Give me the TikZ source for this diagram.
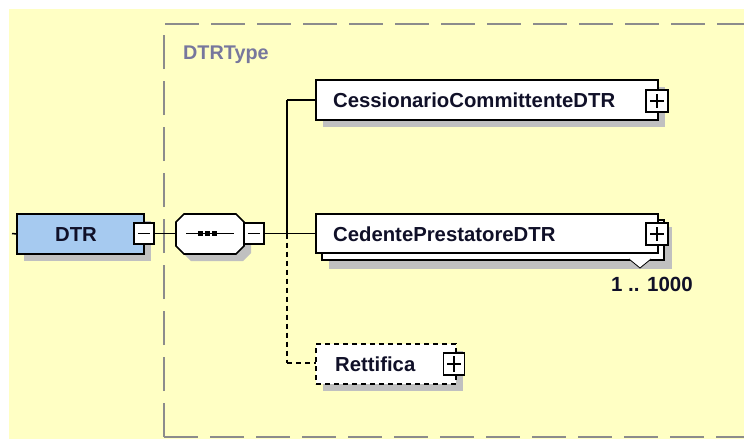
\documentclass[tikz,border=0pt]{standalone}
\usepackage{fontspec}
\setmainfont{Liberation Sans}
\usetikzlibrary{calc}
\definecolor{bgyellow}{RGB}{255,255,196}
\definecolor{dtrblue}{RGB}{166,202,240}
\definecolor{shadowgray}{RGB}{192,192,192}
\definecolor{framegray}{RGB}{140,140,140}
\definecolor{txt}{RGB}{16,16,40}
\tikzset{
  x=1pt, y=-1pt,
  boxline/.style={draw=black, line width=1.6pt},
  elbox/.style={draw=black, line width=1.6pt, fill=white, anchor=north west, inner sep=0pt, outer sep=0pt},
  lbl/.style={font=\fontsize{20.3}{22}\selectfont\bfseries, text=txt, inner sep=0pt},
  conn/.style={draw=black, line width=1.5pt},
  dconn/.style={draw=black, line width=1.5pt, dash pattern=on 5pt off 4pt},
  pm/.style={draw=black, line width=1.4pt, fill=white, inner sep=0pt},
}
\begin{document}
\begin{tikzpicture}
\useasboundingbox (0,0) rectangle (744,439);
\clip (0,0) rectangle (744,439);
\fill[white] (0,0) rectangle (744,439);
\fill[bgyellow] (9,9) rectangle (744,439);
% type frame
\draw[framegray, line width=2pt, dash pattern=on 34pt off 12pt] (164,437) -- (164,24) -- (760,24);
\draw[framegray, line width=2pt, dash pattern=on 34pt off 12pt] (164,437) -- (760,437);
\node[anchor=base west, font=\fontsize{19.8}{22}\selectfont\bfseries, text=framegray!85!blue, inner sep=0pt] (typelbl) at (183,59) {DTRType};

% DTR element
\fill[shadowgray] (24,221) rectangle (151,261);
\node[elbox, fill=dtrblue, minimum width=127pt, minimum height=40pt] (dtrbox) at (17,214) {};
\node[lbl, anchor=base] (dtr) at (76,241) {DTR};
\node[pm, minimum width=20pt, minimum height=21pt] (dtrm) at (144,233.5) {};
\draw[line width=1.4pt] ($(dtrm.center)+(-6,0)$) -- ($(dtrm.center)+(6,0)$);
\coordinate (lstart) at (12,233.5);
\draw[conn] (lstart) -- (dtrbox.west);

% sequence compositor
\fill[shadowgray] (191,221) -- (243,221) -- (251,229) -- (251,253) -- (243,261) -- (191,261) -- (183,253) -- (183,229) -- cycle;
\draw[boxline, fill=white] (184,214) -- (236,214) -- (244,222) -- (244,246) -- (236,254) -- (184,254) -- (176,246) -- (176,222) -- cycle;
\coordinate (seqw) at (176,233.5);
\draw[line width=1.2pt] (186,233.5) -- (234,233.5);
\foreach \xx in {200,207,214} \fill[black] (\xx-2.5,231) rectangle (\xx+2.5,236);
\node[pm, minimum width=20pt, minimum height=21pt] (seqm) at (254,233.5) {};
\draw[line width=1.4pt] ($(seqm.center)+(-6,0)$) -- ($(seqm.center)+(6,0)$);
\draw[conn] (dtrm.east) -- (seqw);

% trunk
\coordinate (trunk) at (287,233.5);
\coordinate (trunktop) at (287,100);
\coordinate (trunkbot) at (287,363);
\draw[conn] (seqm.east) -- (trunk);
\draw[conn] (trunk) -- (trunktop);
\draw[dconn] (trunk) -- (trunkbot);

% CessionarioCommittenteDTR
\fill[shadowgray] (323,87) rectangle (665,127);
\node[elbox, minimum width=342pt, minimum height=40pt] (cessbox) at (316,80) {};
\node[lbl, anchor=base west] (cess) at (333,107) {CessionarioCommittenteDTR};
\node[pm, minimum width=22pt, minimum height=22pt] (cessp) at (657,101) {};
\draw[line width=1.4pt] ($(cessp.center)+(-7,0)$) -- ($(cessp.center)+(7,0)$) ($(cessp.center)+(0,-7)$) -- ($(cessp.center)+(0,7)$);
\draw[conn] (trunktop) -- (cessbox.west);

% CedentePrestatoreDTR
\fill[shadowgray] (329,227) rectangle (672,269);
\draw[boxline, fill=white] (322,220) rectangle (664,260);
\node[elbox, minimum width=342pt, minimum height=39pt] (cedbox) at (316,214) {};
\node[lbl, anchor=base west] (ced) at (333,241) {CedentePrestatoreDTR};
\node[pm, minimum width=22pt, minimum height=22pt] (cedp) at (657,234) {};
\draw[line width=1.4pt] ($(cedp.center)+(-7,0)$) -- ($(cedp.center)+(7,0)$) ($(cedp.center)+(0,-7)$) -- ($(cedp.center)+(0,7)$);
\draw[black, line width=0.8pt, fill=white] (629,259) -- (640,268) -- (651,259);
\node[lbl, anchor=base east, font=\fontsize{20.5}{22}\selectfont\bfseries] (card) at (693,291) {1 .. 1000};
\draw[conn] (trunk) -- (cedbox.west);

% Rettifica
\fill[shadowgray] (323,351) rectangle (463,391);
\node[elbox, dash pattern=on 5pt off 4pt, minimum width=140pt, minimum height=40pt] (rettbox) at (316,344) {};
\node[lbl, anchor=base west] (rett) at (335,371) {Rettifica};
\node[pm, minimum width=21pt, minimum height=22pt] (rettp) at (454,364) {};
\draw[line width=1.4pt] ($(rettp.center)+(-7,0)$) -- ($(rettp.center)+(7,0)$) ($(rettp.center)+(0,-8)$) -- ($(rettp.center)+(0,8)$);
\draw[dconn] (trunkbot) -- (rettbox.west |- trunkbot);
\end{tikzpicture}
\end{document}
